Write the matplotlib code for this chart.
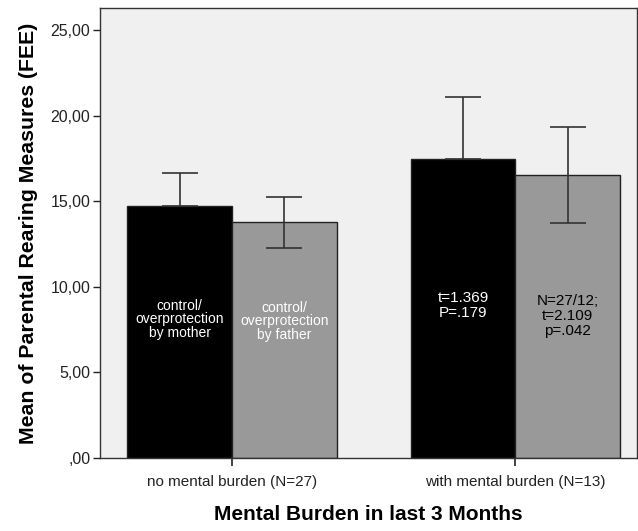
import numpy as np
import matplotlib.pyplot as plt
from matplotlib.ticker import FuncFormatter

plt.rcParams['font.family'] = ['Liberation Sans', 'DejaVu Sans']

groups = ['no mental burden (N=27)', 'with mental burden (N=13)']
mother = [14.73, 17.45]
father = [13.77, 16.55]
mother_err = [1.92, 3.65]
father_err = [1.48, 2.80]
mother_txt = ['control/\noverprotection\nby mother', 't=1.369\nP=.179']
father_txt = ['control/\noverprotection\nby father', 'N=27/12;\nt=2.109\np=.042']
yticks = [0, 5, 10, 15, 20, 25]

fig = plt.figure(figsize=(6.38, 5.31), dpi=100)
ax = fig.add_axes([0.157, 0.1375, 0.842, 0.8475])
ax.set_facecolor('#f0f0f0')

x = np.arange(len(groups))
w = 0.37
ekw = dict(ecolor='#333333', elinewidth=1.2, capthick=1.2)
ax.bar(x - w/2, mother, w, color='black', edgecolor='#222222', linewidth=1,
       yerr=[[0, 0], mother_err], capsize=13, error_kw=ekw)
ax.bar(x + w/2, father, w, color='#999999', edgecolor='#222222', linewidth=1,
       yerr=father_err, capsize=13, error_kw=ekw)

# text inside the bars
m_y = [8.1, 8.9]
f_y = [8.0, 8.3]
f_col = ['white', 'black']
t_size = [10, 11]
t_space = [0.95, 1.08]
for i in range(len(groups)):
    ax.text(x[i] - w/2, m_y[i], mother_txt[i], color='white', ha='center',
            va='center', fontsize=t_size[i], linespacing=t_space[i])
    ax.text(x[i] + w/2, f_y[i], father_txt[i], color=f_col[i], ha='center',
            va='center', fontsize=t_size[i], linespacing=t_space[i])

ax.set_xlim(-0.465, 1.43)
ax.set_ylim(0, 26.3)
ax.set_yticks(yticks)


def fmt(v, p):
    s = ('%.2f' % v).replace('.', ',')
    return s[1:] if v == 0 else s


ax.yaxis.set_major_formatter(FuncFormatter(fmt))
ax.set_xticks(x)
ax.set_xticklabels(groups, fontsize=11)
ax.tick_params(axis='y', labelsize=11.5, length=5, width=1, colors='#222222', pad=2)
ax.tick_params(axis='x', length=6, width=1.2, colors='#222222', pad=6)
for s in ax.spines.values():
    s.set_color('#333333')
    s.set_linewidth(1)

ax.set_xlabel('Mental Burden in last 3 Months', fontsize=15, fontweight='bold', labelpad=12)
ax.set_ylabel('Mean of Parental Rearing Measures (FEE)', fontsize=15.3, fontweight='bold', labelpad=9)

fig.savefig('out.png', dpi=100, facecolor='white')
